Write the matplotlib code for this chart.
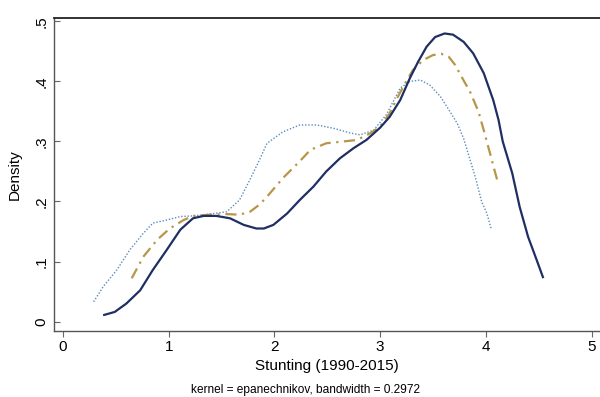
import matplotlib
matplotlib.use("Agg")
import matplotlib.pyplot as plt

# kernel density curves
solid_x = [0.39, 0.49, 0.60, 0.73, 0.85, 0.98, 1.11, 1.23, 1.33, 1.45, 1.58, 1.71, 1.83,
           1.90, 1.99, 2.12, 2.24, 2.37, 2.49, 2.62, 2.75, 2.87, 3.00, 3.09, 3.19, 3.28,
           3.36, 3.44, 3.52, 3.61, 3.69, 3.79, 3.88, 3.98, 4.07, 4.12, 4.16, 4.25, 4.32,
           4.40, 4.48, 4.54]
solid_y = [0.011, 0.016, 0.030, 0.052, 0.086, 0.119, 0.153, 0.172, 0.176, 0.176, 0.172, 0.161, 0.155,
           0.155, 0.161, 0.180, 0.2025, 0.225, 0.250, 0.272, 0.289, 0.3025, 0.323, 0.341, 0.369, 0.405,
           0.433, 0.458, 0.474, 0.480, 0.478, 0.466, 0.447, 0.414, 0.369, 0.336, 0.300, 0.247, 0.191,
           0.141, 0.103, 0.074]

dashdot_x = [0.65, 0.76, 0.89, 1.01, 1.14, 1.23, 1.39, 1.55, 1.67, 1.77, 1.86, 1.93, 2.08, 2.24,
             2.34, 2.49, 2.65, 2.78, 2.91, 3.00, 3.09, 3.16, 3.24, 3.31, 3.41, 3.50, 3.58, 3.65,
             3.71, 3.77, 3.85, 3.93, 3.98, 4.04, 4.09, 4.12]
dashdot_y = [0.072, 0.108, 0.136, 0.155, 0.169, 0.176, 0.178, 0.179, 0.178, 0.183, 0.195, 0.208, 0.239, 0.267,
             0.286, 0.297, 0.300, 0.3025, 0.314, 0.325, 0.347, 0.372, 0.398, 0.419, 0.436, 0.444, 0.446, 0.441,
             0.4275, 0.408, 0.383, 0.350, 0.319, 0.280, 0.247, 0.228]

dot_x = [0.29, 0.38, 0.51, 0.63, 0.76, 0.85, 0.98, 1.11, 1.23, 1.39, 1.55, 1.67, 1.75, 1.85, 1.93,
         2.08, 2.24, 2.40, 2.56, 2.72, 2.81, 2.94, 3.06, 3.19, 3.28, 3.38, 3.47, 3.57, 3.66, 3.73,
         3.79, 3.85, 3.90, 3.96, 4.01, 4.05]
dot_y = [0.033, 0.058, 0.086, 0.119, 0.147, 0.164, 0.169, 0.175, 0.176, 0.179, 0.183, 0.2025, 0.230, 0.266, 0.297,
         0.316, 0.3275, 0.3275, 0.322, 0.314, 0.311, 0.319, 0.345, 0.389, 0.400, 0.4025, 0.394, 0.375, 0.350, 0.330,
         0.305, 0.270, 0.241, 0.200, 0.180, 0.155]

x_ticks = [0, 1, 2, 3, 4, 5]
y_ticks = [0, 0.1, 0.2, 0.3, 0.4, 0.5]
y_tick_labels = ["0", ".1", ".2", ".3", ".4", ".5"]

plt.rcParams['font.family'] = ['Liberation Sans', 'DejaVu Sans']

fig = plt.figure(figsize=(6, 3.97), dpi=100)
ax = fig.add_axes([0.09, 0.167, 0.91, 0.788])

ax.plot(dot_x, dot_y, color='#5a8cbf', lw=1.0, linestyle=(0, (1, 1.3)))
ax.plot(dashdot_x, dashdot_y, color='#b8954a', lw=1.6, linestyle=(0, (5, 2.5, 1, 2.5)))
ax.plot(solid_x, solid_y, color='#1f2f63', lw=1.6)

ax.set_xlim(-0.085, 5.08)
ax.set_ylim(-0.0153, 0.506)

ax.set_xticks(x_ticks)
ax.set_yticks(y_ticks)
ax.set_yticklabels(y_tick_labels, rotation=90, va='center')
ax.tick_params(axis='x', direction='out', length=4, width=0.8, color='#666666', labelsize=11, pad=3)
ax.tick_params(axis='y', direction='in', length=4.5, width=0.8, color='#666666', labelsize=11, pad=4)

for side in ['left', 'bottom']:
    ax.spines[side].set_color('#555555')
    ax.spines[side].set_linewidth(1.0)
ax.spines['right'].set_visible(False)
ax.spines['top'].set_color('#222222')
ax.spines['top'].set_linewidth(1.3)

ax.set_ylabel('Density', fontsize=11, labelpad=9)
ax.set_xlabel('Stunting (1990-2015)', fontsize=11, labelpad=3)
fig.text(0.51, 0.018, 'kernel = epanechnikov, bandwidth = 0.2972', fontsize=8.6, ha='center', va='center')

fig.savefig('out.png', dpi=100)
